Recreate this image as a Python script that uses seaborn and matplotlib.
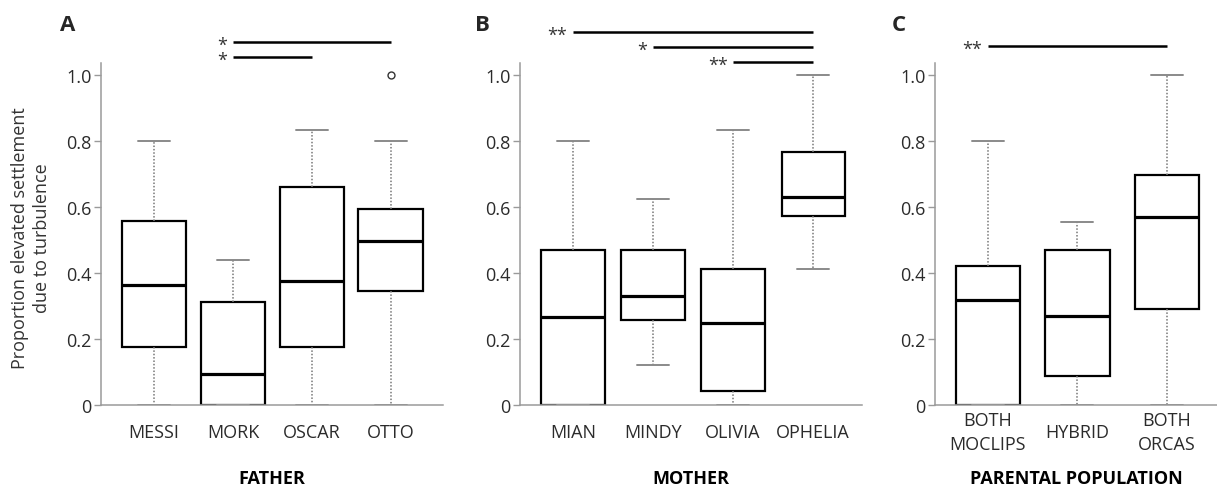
import numpy as np
import pandas as pd
import matplotlib
matplotlib.use("Agg")
import matplotlib.pyplot as plt
import seaborn as sns

# Panel A - father
father_groups = ["MESSI", "MORK", "OSCAR", "OTTO"]
father_low = [0.0, 0.0, 0.0, 0.0]
father_q1 = [0.175, 0.0, 0.175, 0.345]
father_med = [0.365, 0.095, 0.375, 0.496]
father_q3 = [0.558, 0.312, 0.660, 0.595]
father_high = [0.80, 0.44, 0.832, 0.80]
father_outlier_groups = ["OTTO"]
father_outlier_values = [1.0]
father_sig_from = ["MORK", "MORK"]
father_sig_to = ["OTTO", "OSCAR"]
father_sig_text = ["*", "*"]
father_sig_y = [1.10, 1.055]

# Panel B - mother
mother_groups = ["MIAN", "MINDY", "OLIVIA", "OPHELIA"]
mother_low = [0.0, 0.122, 0.0, 0.413]
mother_q1 = [0.0, 0.258, 0.042, 0.572]
mother_med = [0.268, 0.331, 0.247, 0.631]
mother_q3 = [0.471, 0.471, 0.413, 0.766]
mother_high = [0.80, 0.625, 0.833, 1.0]
mother_sig_from = ["MIAN", "MINDY", "OLIVIA"]
mother_sig_to = ["OPHELIA", "OPHELIA", "OPHELIA"]
mother_sig_text = ["**", "*", "**"]
mother_sig_y = [1.131, 1.085, 1.04]

# Panel C - parental population
parent_groups = ["BOTH\nMOCLIPS", "HYBRID", "BOTH\nORCAS"]
parent_low = [0.0, 0.0, 0.0]
parent_q1 = [0.0, 0.088, 0.290]
parent_med = [0.317, 0.270, 0.570]
parent_q3 = [0.422, 0.470, 0.696]
parent_high = [0.80, 0.555, 1.0]
parent_sig_from = ["BOTH\nMOCLIPS"]
parent_sig_to = ["BOTH\nORCAS"]
parent_sig_text = ["**"]
parent_sig_y = [1.087]

y_ticks = [0, 0.2, 0.4, 0.6, 0.8, 1.0]
y_tick_labels = ["0", "0.2", "0.4", "0.6", "0.8", "1.0"]


def five_number_frame(groups, low, q1, med, q3, high):
    rows = []
    for g, vals in zip(groups, zip(low, q1, med, q3, high)):
        for v in vals:
            rows.append({"group": g, "value": v})
    return pd.DataFrame(rows)


sns.set_theme(style="ticks")
plt.rcParams["font.family"] = ["Open Sans", "DejaVu Sans"]

fig = plt.figure(figsize=(12.17, 4.89), dpi=100)
spine_grey = "#9a9a9a"

panels = [
    dict(pos=[0.0830, 0.1697, 0.2810, 0.6994], letter="A", letter_x=-0.12,
         xlabel="FATHER", groups=father_groups,
         stats=(father_low, father_q1, father_med, father_q3, father_high),
         width=0.82, xlim=(-0.67, 3.66),
         sig=(father_sig_from, father_sig_to, father_sig_text, father_sig_y)),
    dict(pos=[0.4273, 0.1697, 0.2810, 0.6994], letter="B", letter_x=-0.132,
         xlabel="MOTHER", groups=mother_groups,
         stats=(mother_low, mother_q1, mother_med, mother_q3, mother_high),
         width=0.79, xlim=(-0.66, 3.61),
         sig=(mother_sig_from, mother_sig_to, mother_sig_text, mother_sig_y)),
    dict(pos=[0.7683, 0.1697, 0.2317, 0.6994], letter="C", letter_x=-0.152,
         xlabel="PARENTAL POPULATION", groups=parent_groups,
         stats=(parent_low, parent_q1, parent_med, parent_q3, parent_high),
         width=0.72, xlim=(-0.59, 2.56),
         sig=(parent_sig_from, parent_sig_to, parent_sig_text, parent_sig_y)),
]

for i, p in enumerate(panels):
    ax = fig.add_axes(p["pos"])
    df = five_number_frame(p["groups"], *p["stats"])
    sns.boxplot(
        data=df, x="group", y="value", order=p["groups"], ax=ax,
        whis=(0, 100), width=p["width"], color="white", linecolor="black",
        linewidth=1.6,
        whiskerprops=dict(color="#777777", linestyle=(0, (1, 1.2)), linewidth=1.1),
        capprops=dict(color="#8a8a8a", linestyle="-", linewidth=1.4),
        medianprops=dict(color="black", linewidth=2.3),
    )
    if i == 0:
        sns.stripplot(x=father_outlier_groups, y=father_outlier_values,
                      order=father_groups, ax=ax, jitter=False, color="white",
                      edgecolor="#333333", linewidth=1.0, size=5, zorder=5)

    ax.set_xlim(*p["xlim"])
    ax.set_ylim(0, 1.036)
    ax.set_yticks(y_ticks)
    ax.set_yticklabels(y_tick_labels)
    ax.set_xticks(range(len(p["groups"])))
    ax.set_xticklabels(p["groups"], linespacing=1.4)
    for lab in ax.get_xticklabels():
        lab.set_va("center")
    sns.despine(ax=ax)
    for side in ["left", "bottom"]:
        ax.spines[side].set_color(spine_grey)
        ax.spines[side].set_linewidth(1.1)
    ax.tick_params(axis="y", colors=spine_grey, labelcolor="#2b2b2b",
                   length=5, width=1, labelsize=13, pad=2)
    ax.tick_params(axis="x", length=0, labelcolor="#2b2b2b", labelsize=13, pad=19.5)

    ax.set_xlabel(p["xlabel"], fontsize=13, fontweight="bold", color="black")
    ax.xaxis.set_label_coords(0.5, -0.213)
    ax.xaxis.label.set_va("center")
    if i == 0:
        ax.set_ylabel("Proportion elevated settlement\ndue to turbulence",
                      fontsize=13, color="#333333", linespacing=1.25)
        ax.yaxis.set_label_coords(-0.205, 0.49)
        ax.yaxis.label.set_va("center")
    else:
        ax.set_ylabel("")

    ax.text(p["letter_x"], 1.114, p["letter"], transform=ax.transAxes,
            fontsize=16, fontweight="bold", ha="left", va="center")

    # significance bars
    s_from, s_to, s_text, s_y = p["sig"]
    for a, b, t, y in zip(s_from, s_to, s_text, s_y):
        xa = p["groups"].index(a)
        xb = p["groups"].index(b)
        ax.plot([xa, xb], [y, y], color="black", linewidth=1.8, clip_on=False,
                solid_capstyle="butt")
        ax.annotate(t, xy=(xa, y), xytext=(-4, -2), textcoords="offset points",
                    ha="right", va="center", fontsize=13, color="#333333",
                    annotation_clip=False)

fig.savefig("out.png", dpi=100)
